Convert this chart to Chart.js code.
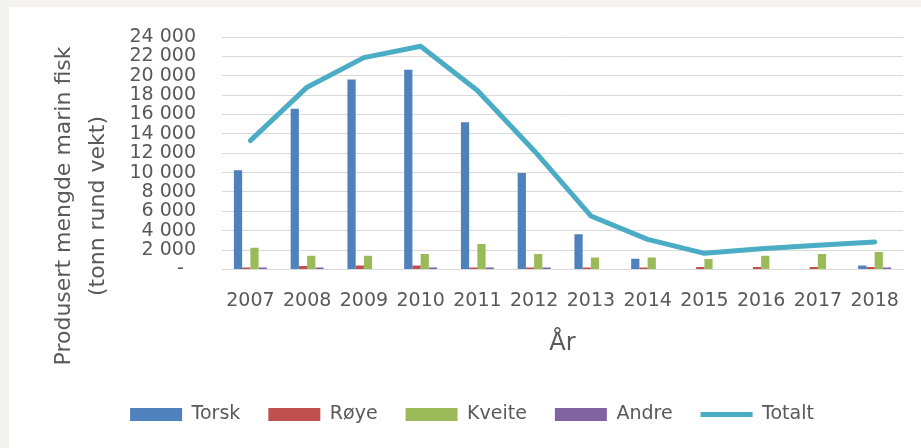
<!DOCTYPE html>
<html lang="no">

<head>
    <title>Produsert mengde marin fisk</title>
    <meta charset="utf-8" />
    <script src="https://cdn.jsdelivr.net/npm/chart.js"></script>
    <style>
        html, body { margin: 0; padding: 0; }
        body { width: 921px; height: 448px; background: #f4f3ef; position: relative; overflow: hidden; }
        .panel { position: absolute; left: 9px; top: 7px; width: 912px; height: 441px; background: #fff; }
        .ytitle {
            position: absolute; left: -129px; top: 165px; width: 400px; height: 68px;
            transform: rotate(-90deg); transform-origin: 200px 34px;
            text-align: center; line-height: 34px; color: #595959;
            font-family: "DejaVu Sans", sans-serif; font-size: 22px; white-space: nowrap;
        }
    </style>
</head>

<body>
    <div class="panel">
        <canvas id="grafikk" width="912" height="441"></canvas>
        <div class="ytitle">Produsert mengde marin fisk<br>(tonn rund vekt)</div>
    </div>

    <script>
        const aar = ['2007', '2008', '2009', '2010', '2011', '2012', '2013', '2014', '2015', '2016', '2017', '2018'];
        const torsk = [10240, 16580, 19620, 20620, 15190, 9950, 3630, 1100, 0, 0, 0, 400];
        const roye = [200, 350, 400, 400, 200, 200, 200, 200, 250, 250, 250, 250];
        const kveite = [2240, 1410, 1410, 1580, 2620, 1580, 1240, 1240, 1070, 1410, 1580, 1800];
        const andre = [200, 200, 0, 200, 200, 200, 0, 0, 0, 0, 0, 200];
        const totalt = [13300, 18820, 21870, 23040, 18480, 12260, 5520, 3100, 1660, 2140, 2490, 2830];

        const tekstfarge = '#595959';
        const font = 'DejaVu Sans';

        function tusen(v) {
            if (v === 0) return '-  ';
            return String(v).replace(/\B(?=(\d{3})+(?!\d))/g, ' ');
        }

        function stolpe(navn, data, farge) {
            return {
                type: 'bar', label: navn, data: data,
                backgroundColor: farge, borderWidth: 0,
                categoryPercentage: 0.58, barPercentage: 1
            };
        }

        new Chart(document.getElementById('grafikk'), {
            data: {
                labels: aar,
                datasets: [
                    stolpe('Torsk', torsk, '#4f81bd'),
                    stolpe('Røye', roye, '#c0504d'),
                    stolpe('Kveite', kveite, '#9bbb59'),
                    stolpe('Andre', andre, '#8064a2'),
                    {
                        type: 'line', label: 'Totalt', data: totalt,
                        borderColor: '#4bacc6', backgroundColor: '#4bacc6',
                        borderWidth: 5, borderCapStyle: 'round', borderJoinStyle: 'round',
                        pointRadius: 0, tension: 0
                    }
                ]
            },
            options: {
                responsive: false,
                animation: false,
                layout: { padding: { left: 32, right: 18, top: 30, bottom: 14 } },
                plugins: {
                    tooltip: { enabled: false },
                    legend: {
                        position: 'bottom',
                        labels: {
                            usePointStyle: true,
                            pointStyleWidth: 52,
                            boxHeight: 13,
                            padding: 28,
                            color: tekstfarge,
                            font: { family: font, size: 19 },
                            generateLabels(chart) {
                                const items = Chart.defaults.plugins.legend.labels.generateLabels(chart);
                                items.forEach(it => {
                                    it.pointStyle = it.text === 'Totalt' ? 'line' : 'rect';
                                });
                                return items;
                            }
                        }
                    }
                },
                scales: {
                    x: {
                        grid: { display: false, drawTicks: false },
                        border: { color: '#d9d9d9' },
                        ticks: { padding: 20, color: tekstfarge, font: { family: font, size: 19 }, maxRotation: 0, autoSkip: false },
                        title: {
                            display: true, text: 'År', color: tekstfarge,
                            font: { family: font, size: 24 }, padding: { top: -3, bottom: 19 }
                        }
                    },
                    y: {
                        min: 0, max: 24000,
                        grid: { color: '#d9d9d9', drawTicks: false },
                        border: { display: false },
                        ticks: {
                            stepSize: 2000, autoSkip: false, padding: 26,
                            color: tekstfarge, font: { family: font, size: 19 },
                            callback: v => tusen(v)
                        },
                        afterFit(scale) {
                            scale.width = 181;
                            scale.paddingTop = 0;
                            scale.paddingBottom = 0;
                        }
                    }
                }
            }
        });
    </script>
</body>

</html>
